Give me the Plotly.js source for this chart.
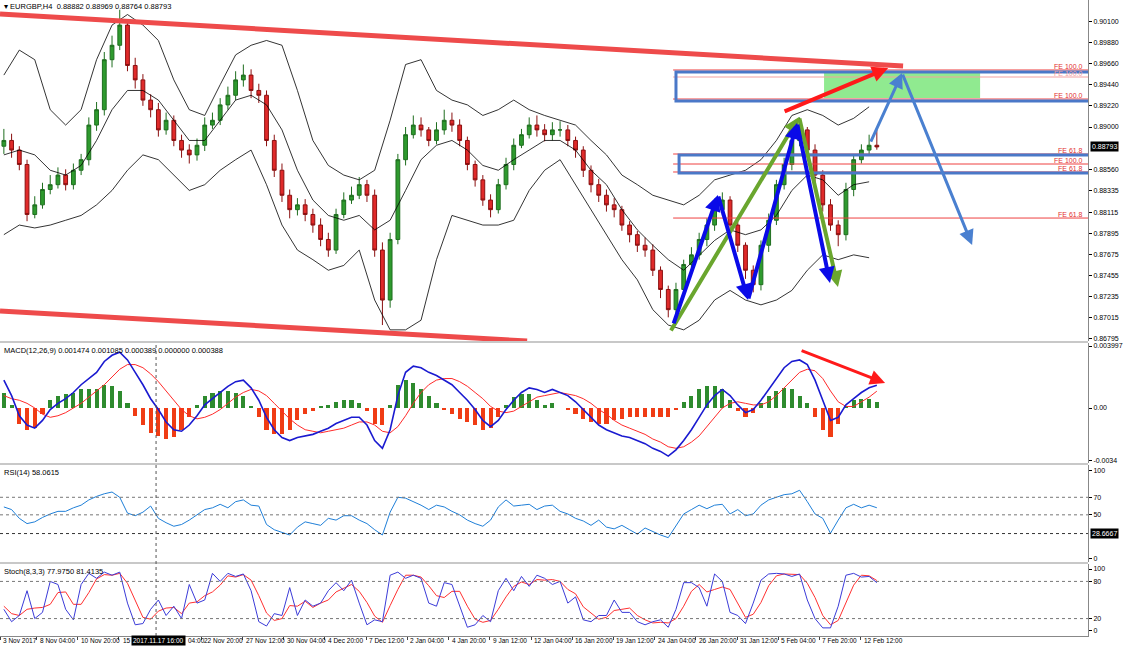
<!DOCTYPE html>
<html><head><meta charset="utf-8">
<script src="https://cdn.plot.ly/plotly-3.0.1.min.js"></script>
<style>html,body{margin:0;padding:0;background:#fff}#chart{width:1125px;height:646px}</style>
</head><body><div id="chart"></div>
<script>
// ---------- price data (EURGBP H4, one candle per 3 bars) ----------
const firstOpen = 0.8880;
const priceClose = [0.8886,0.8876,0.8861,0.8809,0.8819,0.8835,0.8840,0.8850,0.8840,0.8855,
0.8866,0.8902,0.8918,0.8970,0.8985,0.9006,0.8964,0.8949,0.8928,0.8918,
0.8897,0.8907,0.8886,0.8876,0.8871,0.8881,0.8902,0.8907,0.8923,0.8933,
0.8949,0.8954,0.8938,0.8933,0.8886,0.8855,0.8829,0.8814,0.8819,0.8809,
0.8798,0.8783,0.8772,0.8809,0.8824,0.8829,0.8840,0.8829,0.8772,0.8720,
0.8783,0.8866,0.8892,0.8902,0.8897,0.8886,0.8897,0.8907,0.8902,0.8886,
0.8861,0.8845,0.8824,0.8814,0.8840,0.8861,0.8881,0.8892,0.8902,0.8897,
0.8892,0.8897,0.8897,0.8886,0.8876,0.8855,0.8840,0.8829,0.8819,0.8814,
0.8798,0.8788,0.8777,0.8772,0.8751,0.8731,0.8710,0.8731,0.8757,0.8767,
0.8783,0.8798,0.8814,0.8824,0.8798,0.8777,0.8751,0.8736,0.8777,0.8803,
0.8840,0.8861,0.8886,0.8897,0.8876,0.8850,0.8819,0.8798,0.8788,0.8835,
0.8866,0.8876,0.8881,0.88793];
const priceHigh = [0.8898,0.8893,0.8880,0.8866,0.8828,0.8842,0.8850,0.8858,0.8856,0.8862,
0.8872,0.8910,0.8926,0.8978,0.8995,0.9022,0.9012,0.8972,0.8955,0.8934,
0.8925,0.8915,0.8912,0.8892,0.8882,0.8888,0.8910,0.8915,0.8930,0.8942,
0.8958,0.8965,0.8960,0.8945,0.8938,0.8892,0.8862,0.8835,0.8826,0.8825,
0.8815,0.8805,0.8790,0.8815,0.8832,0.8838,0.8848,0.8845,0.8835,0.8780,
0.8790,0.8872,0.8900,0.8912,0.8910,0.8900,0.8905,0.8918,0.8915,0.8908,
0.8890,0.8865,0.8850,0.8830,0.8846,0.8868,0.8888,0.8898,0.8910,0.8912,
0.8903,0.8905,0.8906,0.8902,0.8890,0.8880,0.8860,0.8846,0.8835,0.8826,
0.8818,0.8802,0.8792,0.8785,0.8778,0.8755,0.8735,0.8738,0.8762,0.8775,
0.8790,0.8805,0.8820,0.8832,0.8828,0.8802,0.8780,0.8756,0.8782,0.8810,
0.8845,0.8868,0.8895,0.8910,0.8900,0.8882,0.8855,0.8825,0.8803,0.8842,
0.8870,0.8882,0.8892,0.88969];
const priceLow = [0.8872,0.8868,0.8855,0.8802,0.8805,0.8815,0.8830,0.8836,0.8834,0.8835,
0.8850,0.8860,0.8896,0.8912,0.8962,0.8980,0.8958,0.8940,0.8922,0.8910,
0.8890,0.8892,0.8880,0.8868,0.8862,0.8865,0.8875,0.8898,0.8902,0.8918,
0.8928,0.8942,0.8930,0.8925,0.8880,0.8848,0.8822,0.8805,0.8808,0.8802,
0.8790,0.8776,0.8765,0.8768,0.8805,0.8820,0.8825,0.8822,0.8765,0.8694,
0.8712,0.8778,0.8860,0.8888,0.8890,0.8880,0.8882,0.8892,0.8895,0.8880,
0.8855,0.8838,0.8818,0.8806,0.8810,0.8835,0.8855,0.8878,0.8888,0.8890,
0.8885,0.8886,0.8890,0.8880,0.8868,0.8848,0.8832,0.8822,0.8812,0.8806,
0.8792,0.8780,0.8770,0.8765,0.8745,0.8722,0.8702,0.8705,0.8725,0.8752,
0.8762,0.8776,0.8792,0.8808,0.8792,0.8770,0.8742,0.8728,0.8730,0.8770,
0.8798,0.8835,0.8855,0.8880,0.8868,0.8842,0.8812,0.8792,0.8776,0.8782,
0.8828,0.8862,0.8870,0.88764];

// ---------- Bollinger bands (one point per 6 bars) ----------
const bbUpper = [0.8954,0.8980,0.8970,0.8918,0.8902,0.8918,0.8970,0.9006,0.9017,0.9006,
0.8990,0.8949,0.8918,0.8912,0.8944,0.8975,0.8985,0.8990,0.8985,0.8938,
0.8886,0.8860,0.8850,0.8845,0.8855,0.8907,0.8965,0.8970,0.8938,0.8928,
0.8923,0.8912,0.8918,0.8928,0.8918,0.8912,0.8907,0.8902,0.8886,0.8871,
0.8850,0.8840,0.8829,0.8824,0.8819,0.8829,0.8845,0.8850,0.8855,0.8866,
0.8886,0.8912,0.8918,0.8912,0.8902,0.8909,0.8921];
const bbMiddle = [0.8871,0.8876,0.8871,0.8855,0.8850,0.8860,0.8886,0.8918,0.8938,0.8938,
0.8928,0.8907,0.8886,0.8886,0.8907,0.8928,0.8933,0.8923,0.8897,0.8855,
0.8824,0.8808,0.8803,0.8808,0.8793,0.8803,0.8834,0.8866,0.8881,0.8886,
0.8876,0.8860,0.8855,0.8866,0.8876,0.8886,0.8886,0.8876,0.8855,0.8840,
0.8814,0.8793,0.8777,0.8762,0.8751,0.8767,0.8782,0.8793,0.8788,0.8793,
0.8808,0.8834,0.8850,0.8845,0.8829,0.8840,0.8843];
const bbLower = [0.8788,0.8798,0.8795,0.8798,0.8803,0.8808,0.8819,0.8834,0.8855,0.8871,
0.8866,0.8850,0.8834,0.8840,0.8855,0.8866,0.8876,0.8840,0.8798,0.8772,
0.8762,0.8751,0.8756,0.8772,0.8720,0.8689,0.8689,0.8699,0.8762,0.8808,
0.8803,0.8798,0.8798,0.8803,0.8834,0.8855,0.8866,0.8840,0.8814,0.8788,
0.8762,0.8741,0.8710,0.8694,0.8689,0.8699,0.8720,0.8730,0.8720,0.8715,
0.8720,0.8730,0.8751,0.8767,0.8762,0.8767,0.8764];

// ---------- MACD(12,26,9) ----------
const macdMain = [0.0018,0.0008,-0.0005,-0.0011,-0.0013,-0.0008,-0.0001,0.0003,0.0006,0.0010,
0.0015,0.0019,0.0023,0.0030,0.0034,0.0036,0.0031,0.0023,0.0015,0.0006,
-0.0001,-0.0009,-0.0014,-0.0015,-0.0011,-0.0005,0.0002,0.0006,0.0010,0.0014,
0.0017,0.0018,0.0013,0.0005,-0.0006,-0.0014,-0.0019,-0.0021,-0.0019,-0.0018,
-0.0017,-0.0015,-0.0013,-0.0010,-0.0008,-0.0006,-0.0006,-0.0011,-0.0021,-0.0026,
-0.0014,0.0008,0.0023,0.0027,0.0026,0.0023,0.0021,0.0018,0.0015,0.0010,
0.0005,-0.0001,-0.0008,-0.0012,-0.0008,-0.0001,0.0005,0.0010,0.0013,0.0012,
0.0010,0.0012,0.0010,0.0008,0.0004,-0.0001,-0.0006,-0.0011,-0.0014,-0.0016,
-0.0018,-0.0019,-0.0021,-0.0023,-0.0026,-0.0028,-0.0031,-0.0027,-0.0021,-0.0014,
-0.0006,0.0002,0.0008,0.0012,0.0008,0.0002,-0.0003,-0.0001,0.0005,0.0012,
0.0019,0.0026,0.0030,0.0031,0.0028,0.0018,0.0005,-0.0008,-0.0006,0.0002,
0.0006,0.0010,0.0013,0.001474];
const macdSignal = [0.0008,0.0006,0.0005,0.0003,0.0000,-0.0004,-0.0006,-0.0005,-0.0003,0.0000,
0.0003,0.0007,0.0011,0.0015,0.0020,0.0025,0.0028,0.0028,0.0026,0.0022,
0.0017,0.0011,0.0005,-0.0001,-0.0005,-0.0007,-0.0006,-0.0004,-0.0001,0.0003,
0.0007,0.0010,0.0012,0.0011,0.0008,0.0003,-0.0002,-0.0007,-0.0011,-0.0014,
-0.0015,-0.0016,-0.0015,-0.0014,-0.0013,-0.0011,-0.0009,-0.0009,-0.0011,-0.0015,
-0.0016,-0.0012,-0.0005,0.0003,0.0010,0.0015,0.0018,0.0019,0.0019,0.0017,
0.0014,0.0010,0.0006,0.0001,-0.0002,-0.0003,-0.0002,0.0001,0.0004,0.0007,
0.0008,0.0009,0.0010,0.0009,0.0008,0.0006,0.0003,-0.0001,-0.0004,-0.0008,
-0.0011,-0.0013,-0.0015,-0.0017,-0.0020,-0.0022,-0.0025,-0.0026,-0.0025,-0.0022,
-0.0018,-0.0012,-0.0006,0.0000,0.0003,0.0004,0.0003,0.0002,0.0002,0.0004,
0.0008,0.0013,0.0018,0.0023,0.0025,0.0024,0.0019,0.0011,0.0004,0.0001,
0.0001,0.0004,0.0007,0.001085];
const macdHist = [0.0010,0.0002,-0.0010,-0.0014,-0.0013,-0.0004,0.0005,0.0008,0.0009,0.0010,
0.0012,0.0012,0.0012,0.0015,0.0014,0.0011,0.0003,-0.0005,-0.0011,-0.0016,
-0.0018,-0.0020,-0.0019,-0.0014,-0.0006,0.0002,0.0008,0.0010,0.0011,0.0011,
0.0010,0.0008,0.0001,-0.0006,-0.0014,-0.0017,-0.0017,-0.0014,-0.0008,-0.0004,
-0.0002,0.0001,0.0002,0.0004,0.0005,0.0005,0.0003,-0.0002,-0.0010,-0.0011,
0.0002,0.0015,0.0018,0.0016,0.0012,0.0008,0.0003,-0.0001,-0.0004,-0.0007,
-0.0009,-0.0011,-0.0014,-0.0013,-0.0006,0.0002,0.0007,0.0009,0.0009,0.0005,
0.0002,0.0003,0.0000,-0.0001,-0.0004,-0.0007,-0.0009,-0.0010,-0.0010,-0.0008,
-0.0007,-0.0006,-0.0006,-0.0006,-0.0006,-0.0006,-0.0006,-0.0001,0.0004,0.0008,
0.0012,0.0014,0.0014,0.0012,0.0005,-0.0002,-0.0006,-0.0003,0.0003,0.0008,
0.0011,0.0013,0.0012,0.0008,0.0003,-0.0006,-0.0014,-0.0019,-0.0010,0.0001,
0.0005,0.0006,0.0006,0.000389];

// ---------- RSI(14) ----------
const rsiValues = [59,56,46,40,42,47,51,54,54,58,61,67,71,74,76,70,52,49,53,60,
46,41,37,39,44,50,56,58,62,58,65,67,61,60,39,33,30,27,36,42,
40,38,46,44,49,49,44,40,33,27,53,70,69,65,61,56,61,59,54,50,
44,40,37,44,59,67,60,61,62,56,60,61,54,51,46,43,38,44,36,34,
38,33,28,35,31,27,24,38,51,56,61,57,61,62,51,56,49,51,61,67,
70,73,74,78,65,51,46,29,44,58,62,58,61,58.06];

// ---------- Stochastic(8,3,3) ----------
const stochK = [35,15,25,65,20,30,80,75,35,18,75,93,85,95,90,95,45,10,12,35,
50,25,40,20,75,45,50,93,80,93,88,92,65,15,8,28,25,70,25,50,
40,45,65,78,65,82,45,10,18,15,90,95,85,90,85,45,40,78,75,40,
6,10,25,15,65,85,65,88,72,90,85,75,80,45,55,18,15,25,25,50,
30,30,15,10,15,18,6,35,78,78,70,40,92,80,30,25,12,45,82,92,
93,92,88,92,50,20,5,5,40,90,93,87,88,77.975];
const stochD = [40,28,25,35,37,38,43,62,63,43,43,62,84,91,90,93,77,50,22,19,
32,37,38,28,45,47,57,63,74,89,87,91,82,57,29,17,20,41,40,48,
38,45,50,63,69,75,64,46,24,14,41,67,90,90,87,73,57,54,64,64,
40,19,14,17,35,55,72,79,75,83,82,83,80,67,60,39,29,19,22,33,
35,37,25,18,13,14,13,20,40,64,75,63,67,71,67,45,22,27,46,73,
89,92,91,91,77,54,25,10,17,45,74,90,89,81.4135];

// ---------- axis labels ----------
const priceTicks = [0.90100,0.89880,0.89660,0.89440,0.89220,0.89000,0.88560,0.88335,0.88115,0.87895,0.87675,0.87455,0.87235,0.87015,0.86795];
const timeTickBars = [0,14.2,30.2,46.2,62.2,78.2,94.2,110.2,126.2,142.2,158.2,174.2,190.2,206.2,222.2,238.2,254.2,270.2,286.2,302.2,318.2,334.2];
const timeTickLabels = ["3 Nov 2017","8 Nov 04:00","10 Nov 20:00","15","04:00","22 Nov 20:00","27 Nov 12:00","30 Nov 04:00","4 Dec 20:00","7 Dec 12:00","2 Jan 04:00","4 Jan 20:00","9 Jan 12:00","12 Jan 04:00","16 Jan 20:00","19 Jan 12:00","24 Jan 04:00","26 Jan 20:00","31 Jan 12:00","5 Feb 04:00","7 Feb 20:00","12 Feb 12:00"];
const cursorTimeLabel = "2017.11.17 16:00";

// ---------- drawn objects (bar index, price) ----------
const channelTopBars = [0,350.7], channelTopPrices = [0.90175,0.89634];
const channelBottomBars = [0,204.7], channelBottomPrices = [0.87086,0.86774];
const redArrowBars = [304.1,344.9], redArrowPrices = [0.89156,0.89613];
const boxUpperBars = [262.5,425.5], boxUpperPrices = [0.89572,0.89270];
const boxLowerBars = [263.7,423.7], boxLowerPrices = [0.88708,0.88521];
const targetZoneBars = [320.0,380.6], targetZonePrices = [0.89561,0.89301];
const feLevels = [0.89593,0.89520,0.89291,0.88719,0.88615,0.88532,0.88053];
const feLabels = ["FE 100.0","FE 100.0","FE 100.0","FE 61.8","FE 100.0","FE 61.8","FE 61.8"];
const feStartBar = 261.4;
const greenPathBars = [260.2,310.3,325.4], greenPathPrices = [0.86868,0.89104,0.87336];
const bluePathBars = [261.4,278.8,290.5,309.5,322.3], bluePathPrices = [0.86941,0.88293,0.87200,0.89041,0.87377];
const forecastBars = [337.9,350.3,377.5], forecastPrices = [0.88833,0.89561,0.87772];
const macdArrowBars = [310.7,343.7], macdArrowValues = [0.00374,0.00161];
const cursorBar = 60.6, cursorRsi = 28.6667;

// ---------- build ----------
const xs3 = priceClose.map((_, i) => i * 3 + 1.5);
const xs6 = bbUpper.map((_, i) => i * 6 + 1.5);
const priceOpen = priceClose.map((c, i) => i === 0 ? firstOpen : priceClose[i - 1]);
const FONT = 'Liberation Sans, Arial, sans-serif';

const traces = [
  {type:'candlestick', x:xs3, open:priceOpen, high:priceHigh, low:priceLow, close:priceClose,
   xaxis:'x', yaxis:'y', whiskerwidth:0, hoverinfo:'skip',
   increasing:{line:{color:'#1f6e1f', width:1}, fillcolor:'#2e9a2e'},
   decreasing:{line:{color:'#8a1010', width:1}, fillcolor:'#e02a2a'}},
  {type:'scatter', mode:'lines', x:xs6, y:bbUpper, line:{color:'#000', width:0.8}, xaxis:'x', yaxis:'y', hoverinfo:'skip'},
  {type:'scatter', mode:'lines', x:xs6, y:bbMiddle, line:{color:'#000', width:0.8}, xaxis:'x', yaxis:'y', hoverinfo:'skip'},
  {type:'scatter', mode:'lines', x:xs6, y:bbLower, line:{color:'#000', width:0.8}, xaxis:'x', yaxis:'y', hoverinfo:'skip'},
  {type:'bar', x:xs3, y:macdHist, width:1.6, xaxis:'x', yaxis:'y2', hoverinfo:'skip',
   marker:{color: macdHist.map(v => v >= 0 ? '#2e8b2e' : '#f03c14'), line:{width:0}}},
  {type:'scatter', mode:'lines', x:xs3, y:macdSignal, line:{color:'#ff2a2a', width:1}, xaxis:'x', yaxis:'y2', hoverinfo:'skip'},
  {type:'scatter', mode:'lines', x:xs3, y:macdMain, line:{color:'#1a1ad0', width:1.6}, xaxis:'x', yaxis:'y2', hoverinfo:'skip'},
  {type:'scatter', mode:'lines', x:xs3, y:rsiValues, line:{color:'#1f7fd8', width:1}, xaxis:'x', yaxis:'y3', hoverinfo:'skip'},
  {type:'scatter', mode:'lines', x:xs3, y:stochD, line:{color:'#ff3030', width:1}, xaxis:'x', yaxis:'y4', hoverinfo:'skip'},
  {type:'scatter', mode:'lines', x:xs3, y:stochK, line:{color:'#3b3bd8', width:1}, xaxis:'x', yaxis:'y4', hoverinfo:'skip'}
];

const shapes = [];
const annotations = [];
const line = (x0,y0,x1,y1,yref,color,width,dash) => shapes.push({type:'line', xref:'x', yref, x0, y0, x1, y1, line:{color, width, dash: dash || 'solid'}});
const arrow = (x0,y0,x1,y1,yref,color,width,size) => annotations.push({x:x1, y:y1, ax:x0, ay:y0, xref:'x', yref, axref:'x', ayref:yref, text:'', showarrow:true, arrowhead:2, arrowsize:size||0.9, arrowwidth:width, arrowcolor:color, standoff:0, startstandoff:0});

// panel separators
[[0.46384,0.46069],[0.27201,0.26887],[0.11635,0.11321]].forEach(p => {
  shapes.push({type:'rect', xref:'paper', yref:'paper', x0:0, x1:1, y0:p[1], y1:p[0], fillcolor:'#c8c8c8', line:{width:0}, layer:'above'});
});

// Fibonacci levels
feLevels.forEach((lv, i) => {
  shapes.push({type:'line', xref:'x', yref:'y', x0:feStartBar, x1:422.5, y0:lv, y1:lv, line:{color: i === 1 ? '#f4a0a0' : '#ee4040', width:1}});
  annotations.push({xref:'paper', yref:'y', x:0.997, y:lv, xanchor:'right', yanchor:'bottom', text:feLabels[i], showarrow:false, font:{family:FONT, size:7, color: i === 1 ? '#f4a0a0' : '#e23030'}, yshift:-2});
});
// target zone and boxes
shapes.push({type:'rect', xref:'x', yref:'y', x0:targetZoneBars[0], x1:targetZoneBars[1], y0:targetZonePrices[0], y1:targetZonePrices[1], fillcolor:'#90ea90', line:{width:0}, layer:'below'});
shapes.push({type:'rect', xref:'x', yref:'y', x0:boxUpperBars[0], x1:boxUpperBars[1], y0:boxUpperPrices[0], y1:boxUpperPrices[1], line:{color:'#4a78c8', width:3}});
shapes.push({type:'rect', xref:'x', yref:'y', x0:boxLowerBars[0], x1:boxLowerBars[1], y0:boxLowerPrices[0], y1:boxLowerPrices[1], line:{color:'#4a78c8', width:3}});
// channel
line(channelTopBars[0], channelTopPrices[0], channelTopBars[1], channelTopPrices[1], 'y', '#ee4b4b', 5);
line(channelBottomBars[0], channelBottomPrices[0], channelBottomBars[1], channelBottomPrices[1], 'y', '#ee4b4b', 5);
// red arrow
arrow(redArrowBars[0], redArrowPrices[0], redArrowBars[1], redArrowPrices[1], 'y', '#ff1a1a', 4, 0.8);
// green legs
for (let i = 0; i < greenPathBars.length - 1; i++) arrow(greenPathBars[i], greenPathPrices[i], greenPathBars[i+1], greenPathPrices[i+1], 'y', '#6aa62e', 4, 0.8);
// blue zigzag
for (let i = 0; i < bluePathBars.length - 1; i++) arrow(bluePathBars[i], bluePathPrices[i], bluePathBars[i+1], bluePathPrices[i+1], 'y', '#0a0ae8', 4, 0.8);
// forecast path
for (let i = 0; i < forecastBars.length - 1; i++) arrow(forecastBars[i], forecastPrices[i], forecastBars[i+1], forecastPrices[i+1], 'y', '#4a80d0', 3, 1);
// MACD arrow
arrow(macdArrowBars[0], macdArrowValues[0], macdArrowBars[1], macdArrowValues[1], 'y2', '#ff1a1a', 3, 1);

// levels
[[70,'y3'],[50,'y3'],[80,'y4'],[20,'y4']].forEach(l => shapes.push({type:'line', xref:'paper', yref:l[1], x0:0, x1:1, y0:l[0], y1:l[0], line:{color:'#777', width:1, dash:'dot'}}));
shapes.push({type:'line', xref:'paper', yref:'y3', x0:0, x1:1, y0:cursorRsi, y1:cursorRsi, line:{color:'#333', width:1, dash:'dot'}});
shapes.push({type:'line', xref:'x', yref:'paper', x0:cursorBar, x1:cursorBar, y0:0, y1:0.4607, line:{color:'#555', width:1, dash:'dot'}});

// headers
const hdr = (y, text) => annotations.push({xref:'paper', yref:'paper', x:0.002, y, xanchor:'left', yanchor:'top', text, showarrow:false, font:{family:FONT, size:7.5, color:'#000'}});
hdr(1.0, '▾ EURGBP,H4  0.88882 0.88969 0.88764 0.88793');
hdr(0.4597, 'MACD(12,26,9) 0.001474 0.001085 0.000389 0.000000 0.000388');
hdr(0.2678, 'RSI(14) 58.0615');
hdr(0.1122, 'Stoch(8,3,3) 77.9750 81.4135');

// right axis price boxes
annotations.push({xref:'paper', yref:'y', x:1, y:priceClose[priceClose.length-1], xanchor:'left', text:'0.88793', showarrow:false, bgcolor:'#000', font:{family:FONT, size:7, color:'#fff'}, borderpad:1, xshift:2});
annotations.push({xref:'paper', yref:'y3', x:1, y:cursorRsi, xanchor:'left', text:'28.6667', showarrow:false, bgcolor:'#000', font:{family:FONT, size:7, color:'#fff'}, borderpad:1, xshift:2});

// time labels
timeTickBars.forEach((b, i) => annotations.push({xref:'x', yref:'paper', x:b, y:0, xanchor:'left', yanchor:'top', xshift: i === 4 ? 26 : (i === 3 ? 2 : 1), yshift:1, text:timeTickLabels[i], showarrow:false, font:{family:FONT, size:6.5, color:'#000'}}));
annotations.push({xref:'x', yref:'paper', x:61.4, y:0, xanchor:'center', yanchor:'top', yshift:1, text:cursorTimeLabel, showarrow:false, bgcolor:'#000', font:{family:FONT, size:6.5, color:'#fff'}, borderpad:1});

const yCommon = {side:'right', showgrid:false, zeroline:false, ticks:'outside', ticklen:3, tickcolor:'#000', showline:true, linecolor:'#888', linewidth:1, tickfont:{family:FONT, size:7, color:'#000'}, fixedrange:true};

const layout = {
  width:1125, height:646, margin:{l:0, r:37, t:0, b:10}, paper_bgcolor:'#fff', plot_bgcolor:'#fff', showlegend:false, barmode:'overlay', bargap:0,
  font:{family:FONT, size:7, color:'#000'},
  xaxis:{range:[0,422.5], domain:[0,1], anchor:'y4', showgrid:false, zeroline:false, showticklabels:false, ticks:'outside', ticklen:3, tickvals:timeTickBars, rangeslider:{visible:false}, showline:true, linecolor:'#888', fixedrange:true},
  yaxis:Object.assign({}, yCommon, {domain:[0.46384,1], range:[0.86774,0.90321], tickvals:priceTicks, ticktext:priceTicks.map(v => v.toFixed(5))}),
  yaxis2:Object.assign({}, yCommon, {domain:[0.27201,0.46069], range:[-0.0035475,0.0041925], tickvals:[0.003997,0,-0.0034], ticktext:['0.003997','0.00','-0.0034']}),
  yaxis3:Object.assign({}, yCommon, {domain:[0.11635,0.26887], range:[-3.76,106.8], tickvals:[100,70,50,0], ticktext:['100','70','50','0']}),
  yaxis4:Object.assign({}, yCommon, {domain:[0,0.11321], range:[-8.1,108.1], tickvals:[100,80,20,0], ticktext:['100','80','20','0']}),
  shapes, annotations
};

Plotly.newPlot('chart', traces, layout, {staticPlot:true, displayModeBar:false});
</script></body></html>
